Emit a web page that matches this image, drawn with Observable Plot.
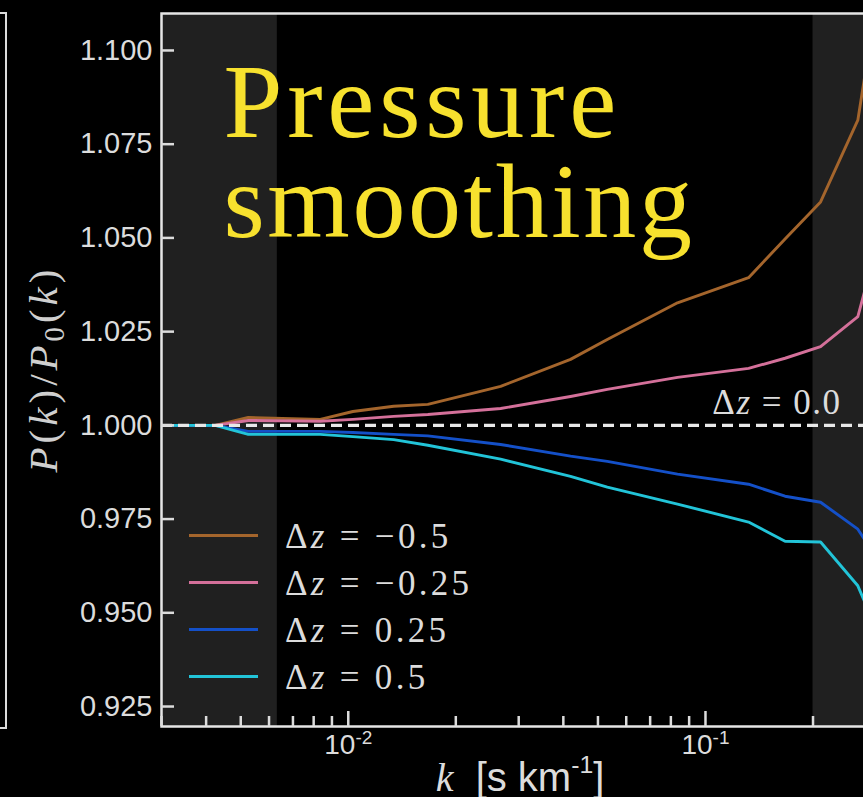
<!DOCTYPE html>
<html><head><meta charset="utf-8">
<script src="https://cdn.jsdelivr.net/npm/d3@7"></script>
<script src="https://cdn.jsdelivr.net/npm/@observablehq/plot@0.6"></script>
<style>
html,body{margin:0;padding:0;background:#000;overflow:hidden;width:863px;height:797px;}
#wrap{position:relative;width:863px;height:797px;overflow:hidden;}
#wrap svg{position:absolute;left:0;top:0;max-width:none !important;width:890px !important;height:797px !important;}
.ov{position:absolute;color:#dcdcdc;white-space:nowrap;line-height:1;}
.serif{font-family:"Liberation Serif","Times New Roman",serif;}
.sans{font-family:"Liberation Sans",Arial,sans-serif;}
</style></head><body><div id="wrap"></div>
<script>
// ---- data ----
const k      = [0.003, 0.00424, 0.00525, 0.00835, 0.0103, 0.0134, 0.0167, 0.0267, 0.0419, 0.0531, 0.0835, 0.132, 0.167, 0.21, 0.267, 0.30];
const dzM050 = [1.000, 1.000, 1.0021, 1.0016, 1.0037, 1.0051, 1.0056, 1.0104, 1.0176, 1.0229, 1.0327, 1.0394, 1.0497, 1.0596, 1.0814, 1.112];
const dzM025 = [1.000, 1.000, 1.0013, 1.0011, 1.0016, 1.0024, 1.0029, 1.0045, 1.0077, 1.0096, 1.0128, 1.0152, 1.0179, 1.0210, 1.0290, 1.047];
const dzP025 = [1.000, 1.000, 0.9984, 0.9984, 0.9981, 0.9976, 0.9972, 0.9949, 0.9918, 0.9904, 0.9870, 0.9843, 0.9811, 0.9795, 0.9723, 0.9650];
const dzP050 = [1.000, 1.000, 0.9976, 0.9976, 0.9970, 0.9962, 0.9947, 0.9910, 0.9864, 0.9835, 0.9790, 0.9742, 0.9691, 0.9689, 0.9572, 0.9460];
const seriesNames  = ["−0.5", "−0.25", "0.25", "0.5"];
const seriesValues = [dzM050, dzM025, dzP025, dzP050];
const seriesColors = ["#a4652c", "#d4709a", "#1450c8", "#22c4d8"];
const yTicks = [0.925, 0.950, 0.975, 1.000, 1.025, 1.050, 1.075, 1.100];
const xMajorTicks = [0.01, 0.1];
const xMinorTicks = [0.003,0.004,0.005,0.006,0.007,0.008,0.009,0.02,0.03,0.04,0.05,0.06,0.07,0.08,0.09,0.2,0.3];
const bands = [{x1: 0.003, x2: 0.00633}, {x1: 0.2, x2: 0.309}];
const reference = [1.0];
const titleText = ["Pressure\nsmoothing"];

const rows = seriesNames.flatMap((n, j) => k.map((kk, i) => ({k: kk, v: seriesValues[j][i], s: n})));

const chart = Plot.plot({
  width: 890, height: 797,
  marginLeft: 161, marginTop: 13, marginBottom: 71, marginRight: 10,
  style: {background: "#000", color: "#dcdcdc", fontFamily: "'Liberation Sans', Arial, sans-serif", overflow: "visible", maxWidth: "none"},
  x: {type: "log", domain: [0.003, 0.309]},
  y: {domain: [0.91967, 1.10986]},
  color: {domain: seriesNames, range: seriesColors},
  marks: [
    Plot.rect(bands, {x1: "x1", x2: "x2", fill: "#202020"}),
    Plot.line(rows, {x: "k", y: "v", z: "s", stroke: "s", strokeWidth: 2.9, clip: true}),
    Plot.ruleY(reference, {stroke: "#e8e8e8", strokeWidth: 3.2, strokeDasharray: "11,6"}),
    Plot.text(reference, {y: d => d, text: () => "Δz = 0.0", frameAnchor: "right", textAnchor: "end", dx: -39, dy: -23,
      fontSize: 35, fill: "#dcdcdc", fontFamily: "'Liberation Serif', serif"}),
    Plot.text(titleText, {text: d => d, frameAnchor: "top-left", textAnchor: "start", lineAnchor: "top",
      dx: 62, dy: 52, fontSize: 106, lineHeight: 0.945, fill: "#f7e12e", fontFamily: "'Liberation Serif', serif"}),
    Plot.frame({stroke: "#e6e6e6", strokeWidth: 2.5}),
    Plot.axisY(yTicks, {tickSize: -13, tickPadding: 22, fontSize: 29, strokeWidth: 2.5, tickFormat: d3.format(".3f"), label: null}),
    Plot.axisX(xMajorTicks, {tickSize: -15, tickPadding: 23, fontSize: 28, strokeWidth: 2.5, tickFormat: d => "10^" + Math.round(Math.log10(d)), label: null}),
    Plot.axisX(xMinorTicks, {tickSize: -10, strokeWidth: 2.5, tickFormat: () => "", label: null})
  ]
});
const wrap = document.getElementById("wrap");
wrap.appendChild(chart);

const ns = "http://www.w3.org/2000/svg";
const allText = [...chart.querySelectorAll("text")];
allText.forEach(t => {
  const s = t.textContent;
  if (s && s.startsWith("10^")) {
    const [base, exp] = s.split("^");
    t.textContent = "";
    const a = document.createElementNS(ns, "tspan"); a.textContent = base;
    const b = document.createElementNS(ns, "tspan"); b.textContent = exp;
    b.setAttribute("font-size", "0.68em"); b.setAttribute("dy", "-0.55em");
    t.append(a, b);
  } else if (s && s.startsWith("Pressure")) {
    const spans = t.querySelectorAll("tspan");
    const ls = ["4.8", "2.6"];
    if (spans.length) spans.forEach((sp, i) => { sp.setAttribute("letter-spacing", ls[i] || "3"); sp.style.letterSpacing = (ls[i] || "3") + "px"; });
    else { t.setAttribute("letter-spacing", "3"); t.style.letterSpacing = "3px"; }
  } else if (s === "Δz = 0.0") {
    t.textContent = "";
    const a = document.createElementNS(ns, "tspan"); a.textContent = "Δ";
    const b = document.createElementNS(ns, "tspan"); b.textContent = "z"; b.setAttribute("font-style", "italic");
    const c = document.createElementNS(ns, "tspan"); c.textContent = " = 0.0";
    t.append(a, b, c);
    t.setAttribute("letter-spacing", "1.5"); t.style.letterSpacing = "1.5px";
  }
});

// ---- overlays: legend, axis labels, neighbouring panel edge ----
function ov(html, css, cls) {
  const d = document.createElement("div");
  d.className = "ov " + (cls || "");
  d.innerHTML = html;
  Object.assign(d.style, css);
  wrap.appendChild(d);
  return d;
}
const legendTop = 535, legendStep = 47.3;
seriesNames.forEach((n, i) => {
  const y = legendTop + i * legendStep;
  ov("", {left: "189px", top: (y - 1.5) + "px", width: "69px", height: "3px", background: seriesColors[i]});
  ov(`Δ<i>z</i>&nbsp;=&nbsp;${n}`,
     {left: "285px", top: (y + 13 - 29.5) + "px", fontSize: "35px", letterSpacing: "3.3px"}, "serif");
});
ov(`<i>P</i>(<i>k</i>)/<i>P</i><span style="font-size:0.7em;position:relative;top:0.25em">0</span>(<i>k</i>)`,
   {left: "43px", top: "369px", fontSize: "41px", letterSpacing: "4px", transform: "translate(-50%,-50%) rotate(-90deg)", color: "#cfcfcf"}, "serif");
ov(`<span class="serif"><i>k</i></span>&nbsp;&nbsp;[s km<span style="font-size:0.62em;position:relative;top:-0.72em">-1</span>]`,
   {left: "520px", top: "757px", fontSize: "40px", transform: "translateX(-50%)"}, "sans");
ov("", {left: "-10px", top: "12px", width: "13px", height: "713px", border: "2px solid #dcdcdc"});
</script></body></html>
